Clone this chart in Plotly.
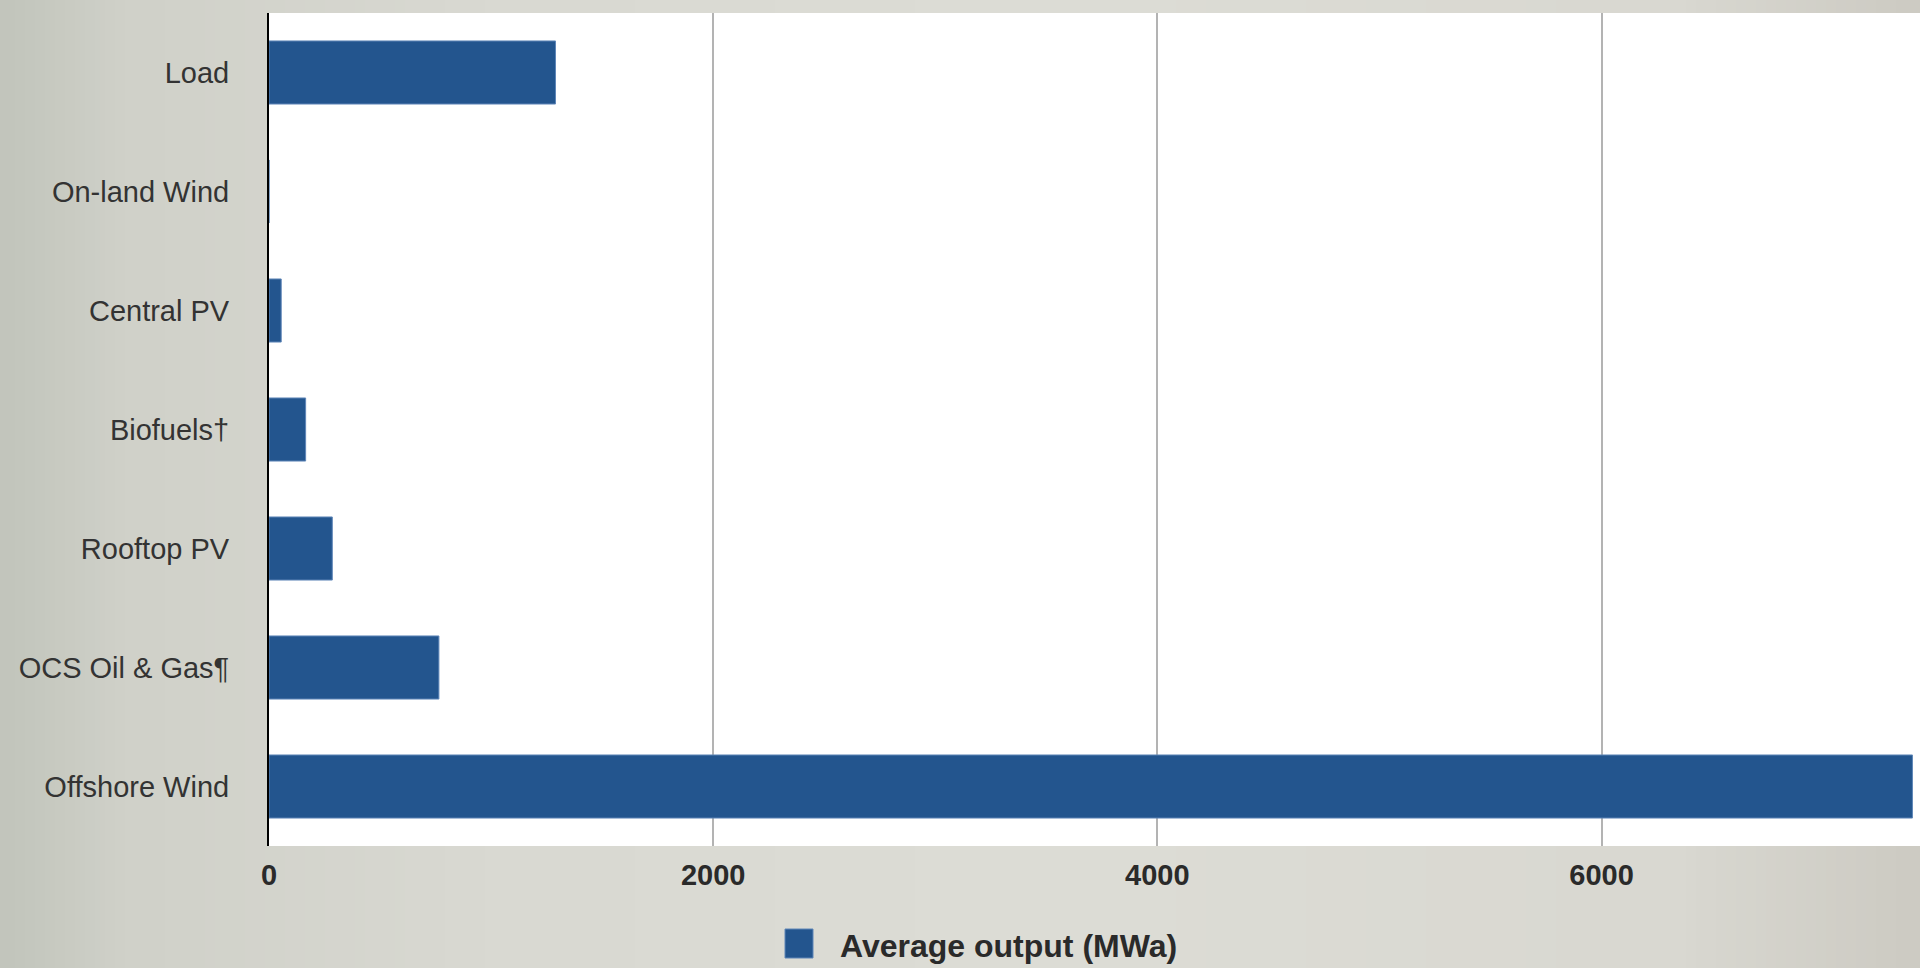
import base64
import struct
import zlib

import plotly.graph_objects as go

# ---- data ----
categories = ["Load", "On-land Wind", "Central PV", "Biofuels†", "Rooftop PV",
              "OCS Oil & Gas¶", "Offshore Wind"]
avg_output = [1290, 0, 55, 165, 285, 765, 7400]
tick_vals = [0, 2000, 4000, 6000]
tick_text = ["0", "2000", "4000", "6000"]
series_name = "Average output (MWa)"

BAR = "#23558e"

# ---- photographed-slide background (soft horizontal gradient) ----
def gradient_png(w, h):
    stops = [(0.0, (194, 197, 188)), (0.06, (208, 209, 201)), (0.25, (217, 217, 210)),
             (0.55, (221, 221, 214)), (0.88, (217, 216, 209)), (1.0, (205, 203, 195))]
    rows = []
    for y in range(h):
        row = bytearray([0])
        for x in range(w):
            t = x / (w - 1)
            for i in range(len(stops) - 1):
                t0, c0 = stops[i]
                t1, c1 = stops[i + 1]
                if t0 <= t <= t1:
                    f = (t - t0) / (t1 - t0)
                    c = [int(c0[k] + (c1[k] - c0[k]) * f) for k in range(3)]
                    break
            row += bytes(c)
        rows.append(bytes(row))
    raw = b"".join(rows)

    def chunk(tag, data):
        return (struct.pack(">I", len(data)) + tag + data +
                struct.pack(">I", zlib.crc32(tag + data) & 0xffffffff))

    png = b"\x89PNG\r\n\x1a\n"
    png += chunk(b"IHDR", struct.pack(">IIBBBBB", w, h, 8, 2, 0, 0, 0))
    png += chunk(b"IDAT", zlib.compress(raw, 9))
    png += chunk(b"IEND", b"")
    return "data:image/png;base64," + base64.b64encode(png).decode()


fig = go.Figure()
fig.add_trace(go.Bar(
    y=categories,
    x=avg_output,
    orientation="h",
    marker=dict(color=BAR, line=dict(color="#5f86b8", width=1)),
    name=series_name,
    showlegend=False,
    width=0.53,
))

W, H = 1920, 968
L, R, T, B = 269, 0, 13, 122
pw, ph = W - L - R, H - T - B

def px_x(x):
    return (x - L) / pw

def px_y(y):
    return (H - B - y) / ph

fig.update_layout(
    width=W, height=H,
    margin=dict(l=L, r=R, t=T, b=B),
    paper_bgcolor="#d9d9d2",
    plot_bgcolor="white",
    font=dict(family="Liberation Sans, Arial, sans-serif", color="#333333"),
    images=[dict(source=gradient_png(192, 4), xref="paper", yref="paper",
                 x=-L / pw, y=1 + T / ph, sizex=W / pw, sizey=H / ph,
                 sizing="stretch", layer="below", xanchor="left", yanchor="top")],
    xaxis=dict(
        range=[0, 7434],
        tickvals=tick_vals,
        ticktext=tick_text,
        showgrid=True,
        gridcolor="#b3b3b3",
        gridwidth=1.5,
        zeroline=False,
        showline=False,
        ticks="",
        ticklabelstandoff=9,
        tickfont=dict(size=29, color="#2a2a2a", family="Liberation Sans, Arial, sans-serif", weight="bold"),
    ),
    yaxis=dict(
        categoryorder="array",
        categoryarray=categories[::-1],
        showgrid=False,
        zeroline=False,
        showline=True,
        linecolor="black",
        linewidth=2,
        ticks="",
        ticklabelstandoff=32,
        tickfont=dict(size=29, color="#333333"),
    ),
    shapes=[
        dict(type="rect", xref="paper", yref="paper", x0=0, x1=1, y0=0, y1=1,
             fillcolor="white", line=dict(width=0), layer="below"),
        dict(type="rect", xref="paper", yref="paper",
             x0=px_x(785), x1=px_x(813), y0=px_y(958), y1=px_y(929),
             fillcolor=BAR, line=dict(color="#5f86b8", width=1)),
    ],
    annotations=[dict(text=series_name, xref="paper", yref="paper",
                      x=px_x(838), y=px_y(946), xanchor="left", yanchor="middle",
                      showarrow=False,
                      font=dict(size=32, color="#2a2a2a", weight="bold"))],
)

fig.write_html("out.html")
